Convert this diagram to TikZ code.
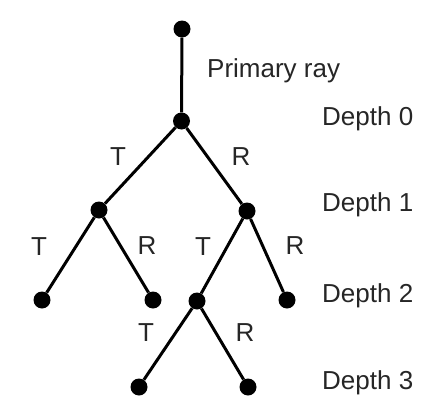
\documentclass[tikz,border=0pt]{standalone}
\usepackage{fontspec}
\setmainfont{Liberation Sans}
\begin{document}
\begin{tikzpicture}[x=1pt,y=-1pt,
  dot/.style={circle,fill=black,inner sep=0pt,minimum size=17pt},
  edge/.style={line width=3pt},
  lbl/.style={font=\fontsize{26}{30}\selectfont,text=black!85,inner sep=0pt},
  dlbl/.style={lbl,anchor=base west}]
\useasboundingbox (0,0) rectangle (442,407);
\node[dot] (top) at (182,29) {};
\node[dot] (d0) at (181.5,121) {};
\node[dot] (l1) at (99,210) {};
\node[dot] (r1) at (247,211) {};
\node[dot] (ll2) at (42,300) {};
\node[dot] (lr2) at (153,300) {};
\node[dot] (rl2) at (197,301) {};
\node[dot] (rr2) at (287,300) {};
\node[dot] (l3) at (139,387) {};
\node[dot] (r3) at (248,387) {};
\draw[edge] (top) -- (d0);
\draw[edge] (d0) -- (l1);
\draw[edge] (d0) -- (r1);
\draw[edge] (l1) -- (ll2);
\draw[edge] (l1) -- (lr2);
\draw[edge] (r1) -- (rl2);
\draw[edge] (r1) -- (rr2);
\draw[edge] (rl2) -- (l3);
\draw[edge] (rl2) -- (r3);
\node[dlbl] (pr) at (207,77) {Primary ray};
\node[dlbl] (t0) at (322,125) {Depth 0};
\node[dlbl] (t1) at (322,211) {Depth 1};
\node[dlbl] (t2) at (322,302) {Depth 2};
\node[dlbl] (t3) at (322,389) {Depth 3};
\node[lbl] (a) at (118,157) {T};
\node[lbl] (b) at (241,157) {R};
\node[lbl] (c) at (39,247) {T};
\node[lbl] (d) at (147,246) {R};
\node[lbl] (e) at (203,247) {T};
\node[lbl] (f) at (295,246) {R};
\node[lbl] (g) at (146,333) {T};
\node[lbl] (h) at (245,333) {R};
\end{tikzpicture}
\end{document}
